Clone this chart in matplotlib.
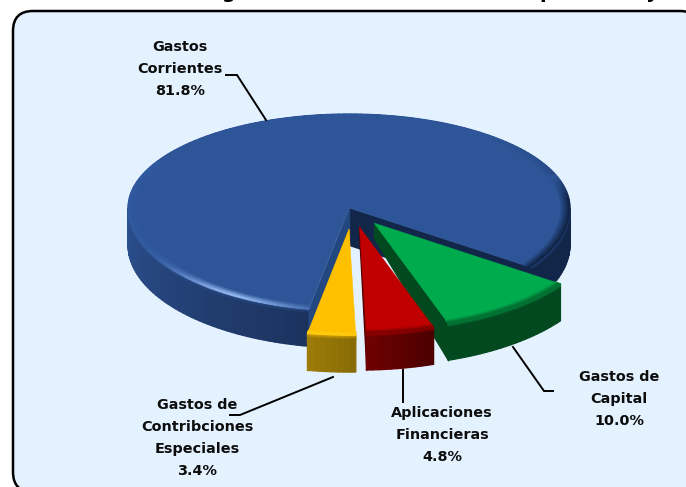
import numpy as np
import matplotlib
matplotlib.use("Agg")
import matplotlib.pyplot as plt
from matplotlib.collections import PolyCollection
from matplotlib.colors import to_rgb
from matplotlib.patches import FancyBboxPatch, Polygon

# ---- data ----
categories = ["Gastos de Capital", "Aplicaciones Financieras",
              "Gastos de Contribciones Especiales", "Gastos Corrientes"]
shares = [10.0, 4.8, 3.4, 81.8]
labels = ["Gastos de\nCapital\n10.0%", "Aplicaciones\nFinancieras\n4.8%",
          "Gastos de\nContribciones\nEspeciales\n3.4%", "Gastos\nCorrientes\n81.8%"]
title_fragments = ["g", "p", "y"]   # only the descenders survive the crop

# ---- layout / style ----
W, H = 686, 487
CX, CY, RX, RY_BACK, RY_FRONT, DEPTH = 349, 208, 221, 94, 103, 37
START = -35.0
SLICE_R = 1.03
FRAME = "#e4f1fe"
TOP = {"Gastos de Capital": "#00ab4e", "Aplicaciones Financieras": "#c00000",
       "Gastos de Contribciones Especiales": "#ffc000", "Gastos Corrientes": "#2e5597"}
WALL = {"Gastos de Capital": "#03491f", "Aplicaciones Financieras": "#560000",
        "Gastos de Contribciones Especiales": "#96760a", "Gastos Corrientes": "#12264a"}
OFFSET = {"Gastos de Capital": (25, 15), "Aplicaciones Financieras": (10.5, 19),
          "Gastos de Contribciones Especiales": (0, 21), "Gastos Corrientes": (0, 0)}
plt.rcParams["font.family"] = ["DejaVu Sans"]

fig = plt.figure(figsize=(W / 100, H / 100), dpi=100, facecolor="white")
ax = fig.add_axes([0, 0, 1, 1])
ax.set_xlim(0, W)
ax.set_ylim(H, 0)
ax.axis("off")


def mix(c1, c2, t):
    a, b = np.array(to_rgb(c1)), np.array(to_rgb(c2))
    return tuple(a + (b - a) * float(np.clip(t, 0, 1)))


def pt(angle, r, off=(0, 0), d=0.0):
    a = np.radians(angle)
    ry = RY_BACK if np.sin(a) > 0 else RY_FRONT
    if off != (0, 0):
        r = r * SLICE_R
    return (CX + off[0] + RX * r * np.cos(a), CY + off[1] - ry * r * np.sin(a) + d)


def angles(a0, a1, step=1.0):
    n = max(2, int(abs(a1 - a0) / step) + 1)
    return np.linspace(a0, a1, n)


def add_polys(polys, colors, z):
    pc = PolyCollection(polys, facecolors=colors, edgecolors=colors,
                        linewidths=0.9, zorder=z)
    pc.set_snap(False)
    ax.add_collection(pc)


def outer_wall(a0, a1, off, colorfn, top_col, z):
    # drawn band by band from the bottom up, so the lighter bevel sits on top
    levels = [0, 1, 2, 3, 4, DEPTH]
    aa = angles(a0, a1, 1.5)
    for j in range(len(levels) - 2, -1, -1):
        polys, cols = [], []
        for u, v in zip(aa[:-1], aa[1:]):
            base = colorfn(0.5 * (u + v))
            polys.append([pt(u, 1, off, levels[j]), pt(v, 1, off, levels[j]),
                          pt(v, 1, off, levels[j + 1]), pt(u, 1, off, levels[j + 1])])
            cols.append(mix(top_col, base, 0.35 + 0.65 * (j + 1) / 4))
        add_polys(polys, cols, z)


def rim(a0, a1, off, top_col, rimfn, z, width=0.04):
    steps = 6
    aa = angles(a0, a1, 1.5)
    for j in range(steps):
        polys, cols = [], []
        r0 = 1 - width * (1 - j / steps)
        r1 = 1 - width * (1 - (j + 1) / steps)
        for u, v in zip(aa[:-1], aa[1:]):
            rc = rimfn(0.5 * (u + v))
            polys.append([pt(u, r0, off), pt(v, r0, off), pt(v, r1, off), pt(u, r1, off)])
            cols.append(mix(top_col, rc, (j + 1) / steps))
        add_polys(polys, cols, z)


# ---- frame ----
ax.add_patch(FancyBboxPatch((13, 11), 687, 481, boxstyle="round,pad=0,rounding_size=20",
                            fc=FRAME, ec="black", lw=1.8, zorder=1))

# ---- slice spans, clockwise from START, from the shares ----
spans = {}
cur = START
for name, share in zip(categories, shares):
    spans[name] = (cur, cur - share * 3.6)
    cur -= share * 3.6

# ---- main slice ----
blue = "Gastos Corrientes"
a0, a1 = spans[blue]
top_blue, wall_blue = TOP[blue], WALL[blue]


def blue_wall_color(a):
    if a > -90 or a < -270:
        return wall_blue
    t = (-a - 100) / 80       # 0 near the cut, 1 at the far left
    return mix("#1b325e", "#2c5190", t)


def blue_rim_color(a):
    a = (a + 180) % 360 - 180
    if -40 <= a <= 20:
        return mix(wall_blue, top_blue, max(0, (a - 5) / 15))
    if 20 < a < 50:
        return mix(top_blue, "#1e3a6c", (50 - a) / 30 * 0.4)
    if -180 <= a <= -60:
        h = np.exp(-((a + 122) / 18) ** 2)
        return mix("#30599f", "#8fb4ec", h)
    if a > 150:
        return "#30599f"
    return top_blue


outer_wall(-180, a0, (0, 0), blue_wall_color, top_blue, 2)
outer_wall(START, 0, (0, 0), blue_wall_color, top_blue, 2)

# cut faces
apex = (CX, CY)
add_polys([[apex, pt(START, 1), pt(START, 1, d=DEPTH), (CX, CY + DEPTH)]], [wall_blue], 3)
add_polys([[apex, pt(a0, 1), pt(a0, 1, d=DEPTH), (CX, CY + DEPTH)]], ["#23477f"], 3)
# top face
aa = angles(a0, a1, 0.5)
ax.add_patch(Polygon([apex] + [pt(a, 1) for a in aa], closed=True, fc=top_blue, ec=top_blue,
                     lw=0.3, zorder=4))
rim(a0, a1, (0, 0), top_blue, blue_rim_color, 5, width=0.04)

# ---- separated slices ----
z = 10
for name in categories[:-1]:
    s0, s1 = spans[name]
    off = OFFSET[name]
    top_c, wall_c = TOP[name], WALL[name]
    ap = (CX + off[0], CY + off[1])
    ap_low = (ap[0], ap[1] + DEPTH * 0.4)
    add_polys([[ap, pt(s1, 1, off), pt(s1, 1, off, DEPTH), ap_low]], [wall_c], z)
    if name.startswith("Gastos de Contribciones"):
        fn = lambda a: mix("#9c7b08", "#866a04", (a + 100) / 12)
    elif name.startswith("Aplicaciones"):
        fn = lambda a: mix("#6e0000", "#4a0000", (a + 88) / 17)
    else:
        fn = lambda a, w=wall_c: w
    outer_wall(s0, s1, off, fn, top_c, z + 1)
    ax.add_patch(Polygon([ap] + [pt(a, 1, off) for a in angles(s0, s1, 0.5)], closed=True,
                         fc=top_c, ec=top_c, lw=0.3, zorder=z + 2))
    rimc = "#ffd21a" if name.startswith("Gastos de Contribciones") else wall_c
    rim(s0, s1, off, top_c, lambda a, c=rimc: mix(top_c, c, 0.6), z + 3, width=0.03)
    z += 10

# ---- labels and leaders ----
LBL = dict(ha="center", va="center", fontsize=10.4, fontweight="bold", color="#0d0d0d",
           linespacing=1.72, zorder=60)
ax.text(180, 69, labels[3], **LBL)
ax.text(619, 399, labels[0], **LBL)
ax.text(442, 435, labels[1], **LBL)
ax.text(197, 438, labels[2], **LBL)

LEAD = dict(color="black", lw=1.4, zorder=55, solid_joinstyle="miter")
ax.plot([226, 237, 266], [75, 75, 120], **LEAD)
ax.plot([513, 544, 553], [347, 391, 391], **LEAD)
ax.plot([403, 403], [370, 402], **LEAD)
ax.plot([230, 240, 333], [415, 415, 377], **LEAD)

# ---- cropped title: only descenders are visible at the very top ----
for frag, x in zip(title_fragments, [228, 546, 652]):
    ax.text(x, -2.5, frag, ha="center", va="baseline", fontsize=14, fontweight="bold", color="black")

fig.savefig("out.png", dpi=100)
